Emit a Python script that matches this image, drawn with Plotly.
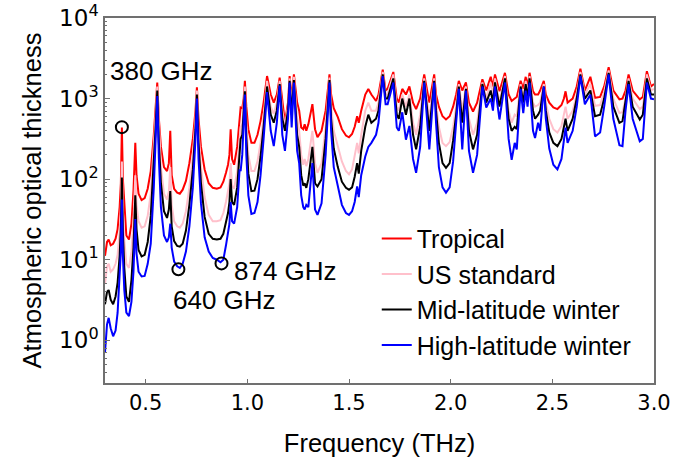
import math
import plotly.graph_objects as go

freq = [0.300, 0.310, 0.318, 0.328, 0.340, 0.352, 0.362, 0.372, 0.378, 0.383, 0.388, 0.395, 0.405, 0.418, 0.430,
        0.440, 0.449, 0.455, 0.465, 0.480, 0.495, 0.510, 0.525, 0.540, 0.548, 0.557, 0.565, 0.575, 0.590, 0.605,
        0.614, 0.621, 0.628, 0.640, 0.655, 0.668, 0.682, 0.698, 0.715, 0.732, 0.745, 0.752, 0.760, 0.772, 0.790,
        0.810, 0.830, 0.850, 0.868, 0.882, 0.895, 0.905, 0.912, 0.918, 0.925, 0.935, 0.950, 0.962, 0.967, 0.975,
        0.982, 0.988, 0.995, 1.005, 1.020, 1.035, 1.050, 1.065, 1.080, 1.097, 1.115, 1.130, 1.145, 1.159, 1.172,
        1.185, 1.200, 1.208, 1.218, 1.229, 1.245, 1.255, 1.265, 1.275, 1.282, 1.290, 1.300, 1.310, 1.320, 1.333,
        1.345, 1.365, 1.385, 1.404, 1.412, 1.425, 1.445, 1.465, 1.485, 1.500, 1.515, 1.528, 1.540, 1.548, 1.560,
        1.580, 1.595, 1.610, 1.633, 1.645, 1.666, 1.680, 1.690, 1.718, 1.735, 1.745, 1.762, 1.780, 1.797, 1.815,
        1.830, 1.850, 1.870, 1.895, 1.919, 1.928, 1.942, 1.960, 1.977, 1.995, 2.012, 2.027, 2.040, 2.057, 2.075,
        2.090, 2.110, 2.130, 2.156, 2.175, 2.197, 2.208, 2.218, 2.240, 2.267, 2.285, 2.300, 2.315, 2.325, 2.344,
        2.357, 2.369, 2.378, 2.388, 2.405, 2.415, 2.430, 2.440, 2.458, 2.468, 2.485, 2.505, 2.525, 2.545, 2.557,
        2.565, 2.575, 2.600, 2.620, 2.638, 2.660, 2.687, 2.710, 2.735, 2.755, 2.777, 2.800, 2.830, 2.845, 2.860,
        2.875, 2.895, 2.930, 2.945, 2.965, 2.985, 3.000]

tropical = [11.2, 16.6, 17.8, 15.1, 15.8, 18.2, 24, 45, 89, 437, 100, 45, 20, 17.8, 28,
            71, 282, 112, 66, 55, 58, 76, 126, 355, 708, 1585, 562, 251, 141, 126,
            158, 398, 112, 76, 68, 66, 74, 95, 158, 316, 708, 1380, 562, 251, 132,
            89, 78, 76, 79, 93, 120, 151, 200, 417, 178, 151, 251, 562, 776, 759,
            1000, 1660, 794, 417, 282, 282, 355, 525, 891, 1905, 1122, 891, 1122, 1820, 891,
            501, 891, 1905, 1000, 1995, 891, 708, 437, 417, 479, 398, 479, 631, 851, 417,
            331, 398, 708, 1995, 1122, 759, 589, 417, 347, 331, 363, 447, 603, 501, 708,
            1122, 1318, 1122, 933, 1122, 2291, 1259, 1318, 2138, 1000, 891, 1318, 1122, 1413, 891,
            741, 1000, 1995, 891, 1995, 1122, 794, 603, 550, 603, 794, 1122, 1660, 1259, 1585,
            891, 692, 891, 1738, 1259, 1862, 1413, 1995, 1230, 2089, 1122, 933, 1000, 1047, 1660,
            1318, 1862, 1413, 2089, 1230, 1122, 1122, 1259, 1660, 1122, 891, 776, 741, 832, 1000,
            1230, 891, 1000, 1413, 2344, 1259, 1862, 1023, 1047, 1413, 2455, 1259, 977, 1000, 1259,
            1995, 1259, 977, 1047, 2188, 1413, 1514]

us_standard = [5.0, 8.3, 8.9, 7.1, 7.6, 8.9, 11.5, 22, 45, 166, 42, 17.8, 8.9, 7.9, 12.6,
               30, 112, 48, 30, 25, 26, 35, 66, 224, 562, 1413, 398, 141, 66, 56,
               71, 141, 48, 30, 26, 25, 28, 40, 79, 200, 562, 1259, 398, 141, 60,
               36, 30, 30, 31, 38, 52, 68, 89, 158, 83, 76, 126, 316, 447, 479,
               759, 1413, 501, 200, 126, 126, 166, 282, 603, 1660, 794, 646, 891, 1660, 708,
               447, 794, 1778, 794, 1862, 562, 398, 200, 151, 178, 145, 178, 282, 398, 158,
               120, 158, 447, 1820, 794, 398, 251, 166, 126, 115, 132, 191, 282, 209, 355,
               708, 891, 708, 708, 891, 2138, 1122, 1148, 1995, 794, 708, 1122, 794, 1122, 501,
               355, 631, 1778, 562, 1778, 891, 447, 282, 257, 288, 447, 794, 1514, 708, 1413,
               562, 355, 501, 1585, 1000, 1585, 1122, 1778, 891, 1905, 708, 501, 631, 603, 1514,
               1000, 1660, 1122, 1905, 891, 794, 832, 891, 1514, 891, 562, 417, 380, 457, 631,
               794, 562, 708, 1122, 2138, 1122, 1514, 813, 832, 1202, 2239, 1000, 661, 676, 1000,
               1778, 1000, 741, 794, 1995, 1259, 1318]

mid_lat_winter = [2.8, 4.0, 4.2, 3.2, 2.8, 3.5, 5.2, 11.2, 25, 105, 22, 7.9, 3.5, 3.0, 5.6,
                  14.1, 63, 24, 13.2, 11, 11.5, 16.6, 35, 141, 398, 1259, 282, 89, 40, 33,
                  42, 71, 26, 17, 14.8, 14.5, 15.8, 23, 48, 132, 417, 1122, 282, 89, 34,
                  21, 18.2, 17.8, 18.2, 21, 30, 38, 52, 100, 52, 48, 79, 214, 316, 355,
                  603, 1230, 331, 117, 71, 72, 100, 191, 447, 1413, 631, 501, 708, 1514, 562,
                  398, 708, 1660, 631, 1698, 355, 251, 112, 83, 89, 78, 100, 158, 251, 89,
                  81, 100, 316, 1698, 562, 240, 141, 93, 78, 74, 79, 107, 158, 117, 224,
                  447, 631, 501, 562, 708, 1995, 1000, 1000, 1778, 631, 562, 1000, 631, 1000, 355,
                  234, 447, 1660, 398, 1660, 708, 282, 158, 138, 158, 302, 631, 1413, 501, 1318,
                  398, 234, 355, 1514, 891, 1259, 891, 1585, 794, 1778, 562, 398, 447, 417, 1413,
                  891, 1514, 1000, 1778, 708, 562, 631, 708, 1413, 708, 380, 282, 257, 316, 447,
                  562, 398, 562, 1000, 1995, 1000, 1259, 603, 631, 1000, 2089, 794, 501, 525, 891,
                  1660, 794, 550, 631, 1778, 1122, 1122]

high_lat_winter = [0.71, 1.58, 1.9, 1.41, 1.12, 1.32, 2.2, 5.6, 12.6, 56, 11.2, 4.2, 2.2, 2.0, 3.0,
                   7.1, 32, 12, 7.1, 6.2, 6.3, 8.9, 15.8, 79, 282, 1072, 178, 45, 20, 16.6,
                   19, 28, 14.1, 9.5, 8.3, 7.9, 8.9, 12.6, 26, 79, 316, 1000, 178, 50, 19,
                   12.6, 10.5, 10, 9.3, 10, 15.1, 21, 28, 52, 30, 28, 45, 132, 126, 200,
                   501, 1122, 200, 63, 37, 38, 52, 112, 316, 1202, 398, 257, 501, 1445, 355,
                   224, 562, 1585, 437, 1585, 224, 158, 63, 45, 42, 48, 45, 79, 158, 42,
                   36, 50, 200, 1585, 398, 141, 79, 48, 38, 36, 40, 52, 81, 60, 112,
                   191, 251, 282, 355, 501, 1905, 851, 851, 1585, 437, 398, 676, 309, 457, 178,
                   120, 251, 1585, 234, 1585, 501, 141, 79, 68, 79, 166, 447, 1318, 234, 1259,
                   224, 120, 200, 1413, 776, 1000, 708, 1413, 550, 1585, 316, 174, 282, 234, 1318,
                   661, 1259, 794, 1585, 398, 324, 501, 398, 1413, 562, 240, 151, 132, 178, 282,
                   437, 282, 398, 794, 1905, 851, 1122, 339, 380, 794, 1995, 562, 263, 257, 708,
                   1514, 562, 295, 316, 1585, 1000, 977]

series_names = ["Tropical", "US standard", "Mid-latitude winter", "High-latitude winter"]
series_values = [tropical, us_standard, mid_lat_winter, high_lat_winter]
series_colors = ["#ff0000", "#ffc0cb", "#000000", "#0000ff"]

circle_freq = [0.383, 0.661, 0.873]
circle_val = [442, 7.6, 9.0]
label_text = ["380 GHz", "640 GHz", "874 GHz"]
label_x = [0.316, 0.625, 0.924]
label_y = [2188, 3.16, 7.24]

y_tickvals = [1, 10, 100, 1000, 10000]
y_ticktext = ["10<sup>0</sup>", "10<sup>1</sup>", "10<sup>2</sup>", "10<sup>3</sup>", "10<sup>4</sup>"]
x_tickvals = [0.5, 1.0, 1.5, 2.0, 2.5, 3.0]
x_ticktext = ["0.5", "1.0", "1.5", "2.0", "2.5", "3.0"]

fig = go.Figure()
for name, vals, col in zip(series_names, series_values, series_colors):
    fig.add_trace(go.Scatter(x=freq, y=vals, mode="lines", name=name,
                             line=dict(color=col, width=2)))

fig.add_trace(go.Scatter(x=circle_freq, y=circle_val, mode="markers", showlegend=False,
                         marker=dict(symbol="circle-open", size=12, color="black",
                                     line=dict(width=2, color="black"))))

for t, lx, ly in zip(label_text, label_x, label_y):
    fig.add_annotation(x=lx, y=math.log10(ly), text=t, showarrow=False, xanchor="left", yanchor="middle",
                       font=dict(family="Liberation Sans, Arial", size=26, color="black"))

axis_color = "#707070"
title_font = dict(family="Liberation Sans, Arial", size=25.5, color="black")
fig.update_layout(
    width=673, height=462,
    margin=dict(l=105, r=19, t=18, b=79),
    paper_bgcolor="white", plot_bgcolor="white",
    showlegend=True,
    legend=dict(x=0.495, y=0.458, xanchor="left", yanchor="top",
                font=dict(family="Liberation Sans, Arial", size=25, color="black"),
                bgcolor="rgba(0,0,0,0)"),
    xaxis=dict(range=[0.3, 3.0], tickvals=x_tickvals, ticktext=x_ticktext, automargin=False,
               ticks="inside", ticklen=4, tickcolor=axis_color, showline=True, linecolor=axis_color,
               linewidth=1.5, mirror=True, showgrid=False, zeroline=False,
               tickfont=dict(family="DejaVu Sans", size=21, color="black"),
               title=dict(text="Frequency (THz)", standoff=20, font=title_font)),
    yaxis=dict(type="log", range=[-0.53, 4], tickvals=y_tickvals, ticktext=y_ticktext, automargin=False,
               ticks="inside", ticklen=5, tickcolor=axis_color, showline=True, linecolor=axis_color,
               linewidth=1.5, mirror=True, showgrid=False, zeroline=False,
               minor=dict(ticks="inside", ticklen=2.5, tickcolor=axis_color, dtick="D1"),
               tickfont=dict(family="DejaVu Sans", size=23, color="black"),
               title=dict(text="Atmospheric optical thickness", standoff=10, font=title_font)),
)

fig.write_html("out.html", config={"displayModeBar": False},
               post_script="document.body.style.margin='0px';")
